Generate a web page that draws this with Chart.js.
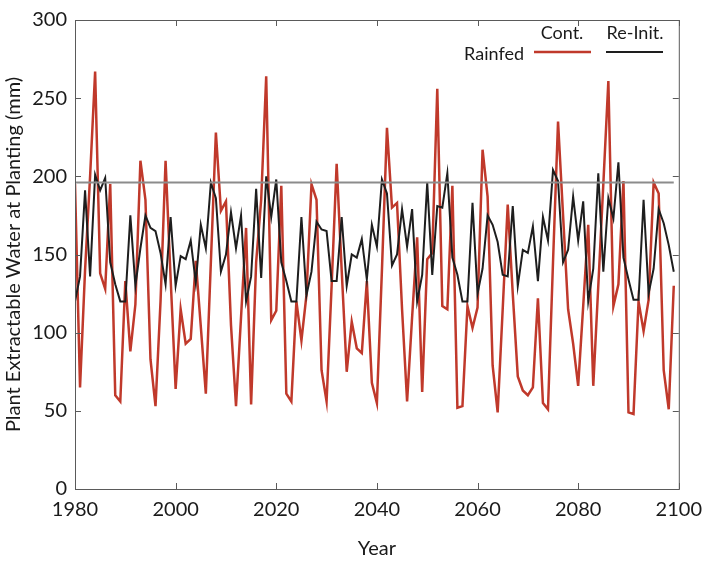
<!DOCTYPE html>
<html>
<head>
<meta charset="utf-8">
<script src="https://cdn.jsdelivr.net/npm/chart.js@4"></script>
<style>
  html, body { margin: 0; padding: 0; background: #fff; }
  #wrap { width: 711px; height: 562px; }
</style>
</head>
<body>
<div id="wrap"><canvas id="chart" width="711" height="562"></canvas></div>
<script>
// years 1980..2099
const startYear = 1980;
const contValues = [
  195, 65, 140, 200, 267, 138, 128, 195, 60, 56, 133, 88, 118, 210, 185, 83, 53, 120, 210, 135,
  64, 115, 93, 96, 146, 104, 61, 145, 228, 178, 184, 105, 53, 110, 167, 54, 145, 185, 264, 108,
  114, 194, 61, 56, 120, 95, 124, 195, 185, 76, 56, 130, 208, 140, 75, 107, 90, 87, 133, 68,
  55, 140, 231, 180, 183, 115, 56, 110, 161, 62, 147, 151, 256, 117, 115, 194, 52, 53, 117, 103,
  116, 217, 187, 79, 49, 115, 182, 125, 72, 63, 60, 65, 122, 55, 51, 145, 235, 175, 115, 93,
  66, 117, 169, 66, 130, 195, 261, 117, 131, 197, 49, 48, 120, 101, 121, 196, 189, 76, 51, 130
];
const reinitValues = [
  120, 136, 191, 136, 201, 191, 199, 145, 131, 120, 120, 175, 130, 154, 175, 167, 165, 151, 131, 174,
  130, 149, 147, 159, 132, 169, 154, 196, 186, 139, 150, 177, 154, 175, 120, 136, 192, 135, 200, 174,
  198, 145, 133, 120, 120, 174, 124, 139, 171, 166, 165, 133, 133, 174, 130, 150, 148, 160, 134, 169,
  155, 198, 189, 143, 150, 179, 155, 179, 120, 137, 196, 137, 181, 180, 202, 148, 137, 120, 120, 183,
  125, 141, 175, 169, 158, 137, 136, 181, 130, 153, 151, 168, 133, 174, 159, 204, 197, 145, 153, 187,
  159, 184, 120, 141, 202, 139, 186, 173, 209, 148, 134, 121, 121, 185, 125, 141, 179, 170, 156, 139
];
const refLevel = 196;
const xTicks = [1980, 2000, 2020, 2040, 2060, 2080, 2100];
const yTicks = [0, 50, 100, 150, 200, 250, 300];
const yTitle = 'Plant Extractable Water at Planting (mm)';

const years = contValues.map((v, i) => startYear + i);
const FONT = 'Lato, "Open Sans", sans-serif';
const RED = 'rgb(192,57,43)';
const BLACK = 'rgb(30,30,30)';
const GRAY = 'rgb(140,140,140)';
const AXIS = 'rgb(90,90,90)';

// box + inward ticks on all four sides, y title, and the legend block
const framePlugin = {
  id: 'frame',
  afterDraw(chart) {
    const ctx = chart.ctx;
    const a = chart.chartArea;
    const xs = chart.scales.x, ys = chart.scales.y;
    const tl = 6;
    ctx.save();
    ctx.strokeStyle = AXIS;
    ctx.lineWidth = 1;
    ctx.strokeRect(a.left + 0.5, a.top + 0.5, a.right - a.left, a.bottom - a.top);
    ctx.beginPath();
    xTicks.forEach(t => {
      const px = Math.round(xs.getPixelForValue(t)) + 0.5;
      ctx.moveTo(px, a.bottom); ctx.lineTo(px, a.bottom - tl);
      ctx.moveTo(px, a.top); ctx.lineTo(px, a.top + tl);
    });
    yTicks.forEach(t => {
      const py = Math.round(ys.getPixelForValue(t)) + 0.5;
      ctx.moveTo(a.left, py); ctx.lineTo(a.left + tl, py);
      ctx.moveTo(a.right, py); ctx.lineTo(a.right - tl, py);
    });
    ctx.stroke();

    // y title, centred on the plot height
    ctx.fillStyle = '#1a1a1a';
    ctx.font = '20px ' + FONT;
    ctx.textAlign = 'center';
    ctx.textBaseline = 'middle';
    ctx.save();
    ctx.translate(14, (a.top + a.bottom) / 2);
    ctx.rotate(-Math.PI / 2);
    ctx.fillText(yTitle, 0, 0);
    ctx.restore();

    // legend
    ctx.font = '18px ' + FONT;
    ctx.textAlign = 'right';
    ctx.fillText('Rainfed', 524, 54);
    ctx.textAlign = 'center';
    ctx.fillText('Cont.', 562, 33);
    ctx.fillText('Re-Init.', 635, 33);
    ctx.lineWidth = 2.5;
    ctx.strokeStyle = RED;
    ctx.beginPath(); ctx.moveTo(534, 52); ctx.lineTo(591, 52); ctx.stroke();
    ctx.lineWidth = 2;
    ctx.strokeStyle = BLACK;
    ctx.beginPath(); ctx.moveTo(606, 52); ctx.lineTo(663, 52); ctx.stroke();
    ctx.restore();
  }
};

new Chart(document.getElementById('chart'), {
  type: 'line',
  data: {
    datasets: [
      {
        label: 'Reference',
        data: [{x: years[0], y: refLevel}, {x: years[years.length - 1], y: refLevel}],
        borderColor: GRAY,
        borderWidth: 2
      },
      {
        label: 'Re-Init.',
        data: years.map((y, i) => ({x: y, y: reinitValues[i]})),
        borderColor: BLACK,
        borderWidth: 2
      },
      {
        label: 'Cont.',
        data: years.map((y, i) => ({x: y, y: contValues[i]})),
        borderColor: RED,
        borderWidth: 2.5
      }
    ]
  },
  options: {
    responsive: false,
    animation: false,
    elements: { point: { radius: 0 }, line: { tension: 0 } },
    layout: { padding: { left: 0, top: 9, right: 23, bottom: 0 } },
    plugins: { legend: { display: false }, tooltip: { enabled: false } },
    scales: {
      x: {
        type: 'linear',
        min: 1980, max: 2100,
        afterFit: s => { s.height = 73; },
        afterBuildTicks: s => { s.ticks = xTicks.map(v => ({value: v})); },
        grid: { display: false, drawTicks: false },
        border: { display: false },
        ticks: { padding: 9, color: '#1a1a1a', font: { family: FONT, size: 20 }, callback: v => String(v) },
        title: { display: true, text: 'Year', color: '#1a1a1a', padding: { top: 0, bottom: 1 }, font: { family: FONT, size: 20 } }
      },
      y: {
        min: 0, max: 300,
        afterFit: s => { s.width = 75; },
        afterBuildTicks: s => { s.ticks = yTicks.map(v => ({value: v})); },
        grid: { display: false, drawTicks: false },
        border: { display: false },
        ticks: { padding: 8, color: '#1a1a1a', font: { family: FONT, size: 20 } }
      }
    }
  },
  plugins: [framePlugin]
});
</script>
</body>
</html>
